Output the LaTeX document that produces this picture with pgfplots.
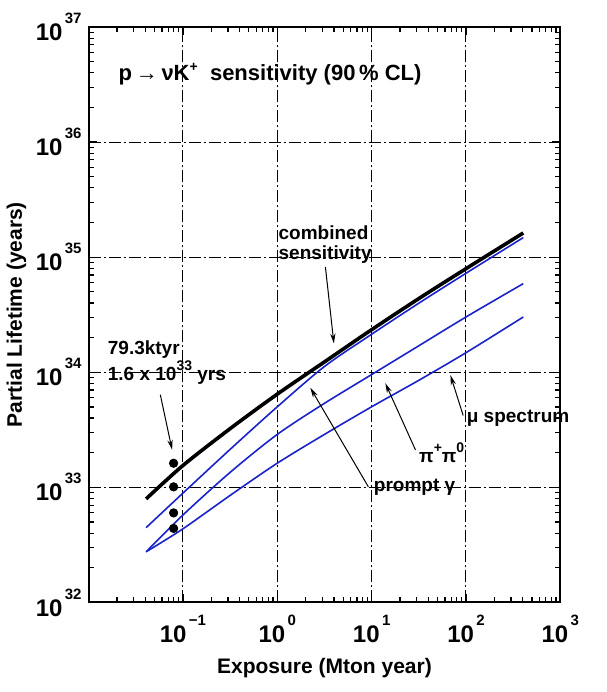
\documentclass[border=0pt]{standalone}
\usepackage{fontspec}
\setmainfont{Liberation Sans}
\usepackage{pgfplots}
\pgfplotsset{compat=1.18}
\usetikzlibrary{arrows.meta}
\definecolor{cblue}{RGB}{25,35,200}
\newcommand{\pw}[1]{10\hspace{1.2pt}\raisebox{8.5pt}{\fontsize{7.5}{8}\selectfont #1}}
\begin{document}
\begin{tikzpicture}
\begin{axis}[
  xmode=log, ymode=log,
  scale only axis, width=235.85pt, height=287.75pt,
  xmin=0.01, xmax=1000, ymin=1e32, ymax=1e37,
  xtick={0.1,1,10,100,1000},
  xticklabels={\pw{−1},\pw{0},\pw{1},\pw{2},\pw{3}},
  ytick={1e32,1e33,1e34,1e35,1e36,1e37},
  yticklabels={\pw{32},\pw{33},\pw{34},\pw{35},\pw{36},\pw{37}},
  minor xtick={0.02,0.03,0.04,0.05,0.06,0.07,0.08,0.09,0.2,0.3,0.4,0.5,0.6,0.7,0.8,0.9,2,3,4,5,6,7,8,9,20,30,40,50,60,70,80,90,200,300,400,500,600,700,800,900},
  minor ytick={2e32,3e32,4e32,5e32,6e32,7e32,8e32,9e32,2e33,3e33,4e33,5e33,6e33,7e33,8e33,9e33,2e34,3e34,4e34,5e34,6e34,7e34,8e34,9e34,2e35,3e35,4e35,5e35,6e35,7e35,8e35,9e35,2e36,3e36,4e36,5e36,6e36,7e36,8e36,9e36},
  tick pos=both, tick align=inside,
  major tick length=4pt, minor tick length=2.5pt,
  every tick/.append style={black, line width=0.6pt},
  axis line style={line width=1pt},
  grid=major,
  major grid style={black, line width=0.5pt, dash pattern=on 6pt off 1.5pt on 1pt off 1.5pt},
  tick label style={font=\fontsize{12}{14}\selectfont\bfseries},
  xticklabel style={yshift=-3pt},
  xlabel={Exposure (Mton year)}, ylabel={Partial Lifetime (years)},
  label style={font=\fontsize{10.5}{12}\selectfont\bfseries},
  xlabel style={at={(axis description cs:0.5,-0.114)},anchor=center},
  ylabel style={at={(axis description cs:-0.153,0.5)},anchor=center},
  clip=false,
]
% mu spectrum
\addplot[cblue, line width=0.8pt, smooth] coordinates {(0.0407,2.754e32)(0.1,4.365e32)(0.3162,8.511e32)(1,1.622e33)(3.162,2.884e33)(10,5.012e33)(31.62,8.511e33)(100,1.479e34)(405,3.020e34)};
% pi+ pi0
\addplot[cblue, line width=0.8pt, smooth] coordinates {(0.0407,2.754e32)(0.1,5.754e32)(0.3162,1.349e33)(1,2.884e33)(3.162,5.370e33)(10,9.550e33)(31.62,1.698e34)(100,3.020e34)(405,5.888e34)};
% prompt gamma
\addplot[cblue, line width=0.8pt, smooth] coordinates {(0.0407,4.467e32)(0.1,8.913e32)(0.3162,2.138e33)(1,5.012e33)(3.162,1.122e34)(10,2.138e34)(31.62,3.981e34)(100,7.244e34)(405,1.479e35)};
% combined
\addplot[black, line width=1.8pt, smooth] coordinates {(0.0407,7.94e32)(0.1,1.549e33)(0.3162,3.236e33)(1,6.457e33)(3.162,1.230e34)(10,2.344e34)(31.62,4.365e34)(100,7.943e34)(405,1.622e35)};
% Super-K points
\addplot[only marks, mark=*, mark size=2.1pt, black] coordinates {(0.0796,1.62e33)(0.0796,1.01e33)(0.0796,6.0e32)(0.0796,4.4e32)};

\path ([shift={(-44.15pt,-44.75pt)}]rel axis cs:0,0) rectangle ([shift={(23pt,13.5pt)}]rel axis cs:1,1);

\node[anchor=west, inner sep=0pt, font=\fontsize{11}{13}\selectfont\bfseries] at (rel axis cs:0.063,0.918) {p\,→\,νK\raisebox{4.5pt}{\fontsize{7}{7}\selectfont +}\ \ sensitivity (90\,\% CL)};

\begin{scope}[every node/.style={anchor=west, inner sep=0pt, font=\fontsize{9.5}{11}\selectfont\bfseries}]
\node at (rel axis cs:0.402,0.642) {combined};
\node at (rel axis cs:0.402,0.604) {sensitivity};
\node at (rel axis cs:0.040,0.439) {79.3ktyr};
\node at (rel axis cs:0.040,0.400) {1.6 x 10\raisebox{5pt}{\fontsize{7}{7}\selectfont 33}\ yrs};
\node at (rel axis cs:0.604,0.201) {prompt γ};
\node at (rel axis cs:0.700,0.261) {π\raisebox{5pt}{\fontsize{7}{7}\selectfont +}π\raisebox{5pt}{\fontsize{7}{7}\selectfont 0}};
\node at (rel axis cs:0.801,0.320) {μ spectrum};
\end{scope}

\begin{scope}[line width=0.5pt, -{Stealth[length=5pt,width=2.6pt]}]
\draw (rel axis cs:0.502,0.583) -- (rel axis cs:0.520,0.450);
\draw (rel axis cs:0.152,0.361) -- (rel axis cs:0.177,0.265);
\draw (rel axis cs:0.593,0.201) -- (rel axis cs:0.470,0.373);
\draw (rel axis cs:0.693,0.265) -- (rel axis cs:0.629,0.381);
\draw (rel axis cs:0.794,0.325) -- (rel axis cs:0.767,0.395);
\end{scope}
\end{axis}
\end{tikzpicture}
\end{document}
